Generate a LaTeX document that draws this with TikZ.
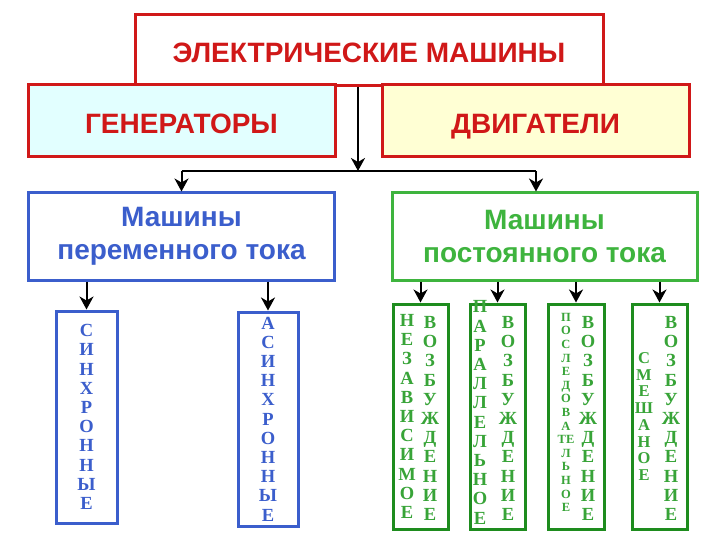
\documentclass[tikz,border=0pt]{standalone}
\usepackage{fontspec}
\setmainfont{Liberation Serif}
\setsansfont{Liberation Sans}
\usepackage{xcolor}
\usetikzlibrary{arrows.meta,positioning}
\definecolor{emred}{RGB}{208,24,24}
\definecolor{emcyan}{RGB}{226,255,255}
\definecolor{emyellow}{RGB}{255,255,212}
\definecolor{acblue}{RGB}{59,94,204}
\definecolor{dcgreen}{RGB}{62,180,62}
\definecolor{dcdark}{RGB}{30,140,30}
\definecolor{dcletter}{RGB}{56,164,56}
\tikzset{
  mainbox/.style={draw=emred, line width=3pt, fill=white, minimum width=468pt, minimum height=71pt, inner sep=0pt, text height=20pt, text depth=0pt, text=emred, font=\sffamily\bfseries\fontsize{28}{32}\selectfont},
  kindbox/.style={draw=emred, line width=3pt, minimum width=307pt, minimum height=72pt, inner sep=0pt, text height=20pt, text depth=0pt, text=emred, font=\sffamily\bfseries\fontsize{28}{32}\selectfont},
  currentbox/.style={line width=3pt, fill=white, minimum width=306pt, minimum height=87pt, inner sep=0pt, align=center, font=\sffamily\bfseries\fontsize{28}{33}\selectfont},
  letterbox/.style={line width=3pt, fill=white, minimum width=58pt, minimum height=222pt, inner sep=0pt, align=center, font=\bfseries\fontsize{18.5}{19.2}\selectfont},
  lettercol/.style={align=center, inner sep=0pt, text=dcletter, font=\bfseries\fontsize{18.5}{19.2}\selectfont},
  treearrow/.style={-{Stealth[length=13pt,width=14pt,inset=4pt]}, line width=2pt},
  treeline/.style={line width=2pt}
}
\begin{document}
\begin{tikzpicture}[x=1pt,y=-1pt]
\useasboundingbox (0,0) rectangle (720,540);
% top level
\node[mainbox] (machines) at (369,50) {\raisebox{-3pt}{ЭЛЕКТРИЧЕСКИЕ МАШИНЫ}};
\node[kindbox, fill=emcyan] (generators) at (181.5,121) {\raisebox{-3pt}{ГЕНЕРАТОРЫ}};
\node[kindbox, fill=emyellow] (motors) at (535.5,121) {\raisebox{-3pt}{ДВИГАТЕЛИ}};
% current type
\node[currentbox, draw=acblue, text=acblue] (ac) at (181.5,236.5) {Машины\\переменного тока};
\node[currentbox, draw=dcgreen, text=dcgreen, minimum width=305pt] (dc) at (544.5,236.5) {Машины\\постоянного тока};
\coordinate (split) at (358,171);
\coordinate (splitL) at (181.5,171);
\coordinate (splitR) at (536,171);
\draw[treearrow] (machines.south -| split) -- (split);
\draw[treeline] (splitL) -- (splitR);
\draw[treearrow] (splitL) -- (ac.north);
\draw[treearrow] (splitR) -- (splitR |- dc.north);
% alternating current
\node[letterbox, draw=acblue, text=acblue, minimum width=61pt, minimum height=212pt] (sync) at (86.5,417)
  {С\\И\\Н\\Х\\Р\\О\\Н\\Н\\Ы\\Е};
\node[letterbox, draw=acblue, text=acblue, minimum width=60pt, minimum height=214pt] (async) at (268,419)
  {А\\С\\И\\Н\\Х\\Р\\О\\Н\\Н\\Ы\\Е};
\draw[treearrow] (ac.south -| sync) -- (sync.north);
\draw[treearrow] (ac.south -| async) -- (async.north);
% direct current
\node[letterbox, draw=dcdark, minimum width=55pt, minimum height=225pt] (indep) at (420.5,416.5) {};
\node[letterbox, draw=dcdark, minimum width=55pt, minimum height=225pt] (shunt) at (497.5,416.5) {};
\node[letterbox, draw=dcdark, minimum width=56pt, minimum height=225pt] (series) at (576,416.5) {};
\node[letterbox, draw=dcdark, minimum width=55pt, minimum height=225pt] (mixed) at (659.5,416.5) {};
\foreach \b in {indep,shunt,series,mixed}
  \draw[treearrow] (dc.south -| \b) -- (\b.north);
\node[lettercol] (indepA) at (407,416.5) {Н\\Е\\З\\А\\В\\И\\С\\И\\М\\О\\Е};
\node[lettercol] (indepB) at (430,418.5) {В\\О\\З\\Б\\У\\Ж\\Д\\Е\\Н\\И\\Е};
\node[lettercol] (shuntA) at (480,412.5) {П\\А\\Р\\А\\Л\\Л\\Е\\Л\\Ь\\Н\\О\\Е};
\node[lettercol] (shuntB) at (508,418.5) {В\\О\\З\\Б\\У\\Ж\\Д\\Е\\Н\\И\\Е};
\node[lettercol, font=\bfseries\fontsize{12.5}{13.6}\selectfont] (seriesA) at (566,412.5)
  {П\\О\\С\\Л\\Е\\Д\\О\\В\\А\\ТЕ\\Л\\Ь\\Н\\О\\Е};
\node[lettercol] (seriesB) at (588,418.5) {В\\О\\З\\Б\\У\\Ж\\Д\\Е\\Н\\И\\Е};
\node[lettercol, font=\bfseries\fontsize{16.5}{16.7}\selectfont] (mixedA) at (644,416.5) {С\\М\\Е\\Ш\\А\\Н\\О\\Е};
\node[lettercol] (mixedB) at (671,418.5) {В\\О\\З\\Б\\У\\Ж\\Д\\Е\\Н\\И\\Е};
\end{tikzpicture}
\end{document}
